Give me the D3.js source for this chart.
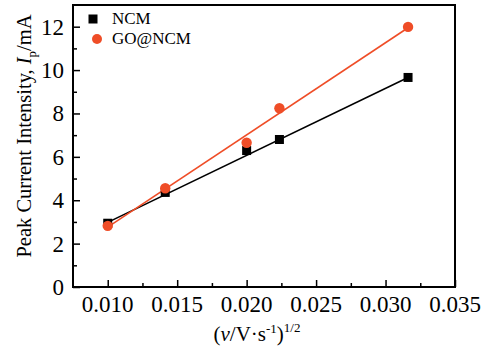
<!DOCTYPE html>
<html><head><meta charset="utf-8">
<script src="https://cdn.jsdelivr.net/npm/d3@7"></script>
<style>body{margin:0;background:#fff}svg{display:block}text{font-family:"Liberation Serif","Times New Roman",serif;fill:#000}</style>
</head><body><svg id="c" width="484" height="358"></svg>
<script>
const xVals = [0.010, 0.01414, 0.020, 0.02236, 0.03162];
const ncm = [2.94, 4.36, 6.29, 6.80, 9.66];
const go = [2.82, 4.55, 6.65, 8.24, 11.99];
const fitNCMx = [0.010, 0.03162], fitNCMy = [2.98, 9.66];
const fitGOx = [0.010, 0.03162], fitGOy = [2.76, 11.95];
const xTicks = [0.010, 0.015, 0.020, 0.025, 0.030, 0.035];
const yTicks = [0, 2, 4, 6, 8, 10, 12];
const xMinor = [0.0125, 0.0175, 0.0225, 0.0275, 0.0325];
const yMinor = [1, 3, 5, 7, 9, 11];
const seriesNames = ["NCM", "GO@NCM"];
const red = "#ef4d27";

const svg = d3.select("#c");
const L = 73, R = 455, T = 5, B = 287;
const x = d3.scaleLinear().domain([0.0075, 0.035]).range([L, R]);
const y = d3.scaleLinear().domain([0, 13]).range([B, T]);

// lines
const line = d3.line().x(d => x(d[0])).y(d => y(d[1]));
svg.append("path").datum(d3.zip(fitNCMx, fitNCMy)).attr("d", line).attr("fill","none").attr("stroke","#000").attr("stroke-width",1.6);
svg.append("path").datum(d3.zip(fitGOx, fitGOy)).attr("d", line).attr("fill","none").attr("stroke",red).attr("stroke-width",1.6);

// points
const sq = 9;
svg.selectAll(".sq").data(d3.zip(xVals, ncm)).enter().append("rect")
  .attr("x", d => x(d[0]) - sq/2).attr("y", d => y(d[1]) - sq/2).attr("width", sq).attr("height", sq).attr("fill", "#000");
svg.selectAll(".ci").data(d3.zip(xVals, go)).enter().append("circle")
  .attr("cx", d => x(d[0])).attr("cy", d => y(d[1])).attr("r", 5.2).attr("fill", red);

// axes (ticks inward)
const gx = svg.append("g").attr("transform", `translate(0,${B})`)
  .call(d3.axisTop(x).tickValues(xTicks).tickSize(7).tickFormat(""));
const gxm = svg.append("g").attr("transform", `translate(0,${B})`)
  .call(d3.axisTop(x).tickValues(xMinor).tickSize(4).tickFormat(""));
const gy = svg.append("g").attr("transform", `translate(${L},0)`)
  .call(d3.axisRight(y).tickValues(yTicks).tickSize(7).tickFormat(""));
const gym = svg.append("g").attr("transform", `translate(${L},0)`)
  .call(d3.axisRight(y).tickValues(yMinor).tickSize(4).tickFormat(""));
[gx, gxm, gy, gym].forEach(g => { g.select(".domain").remove(); g.selectAll("line").attr("stroke","#000").attr("stroke-width",1.5); });

// frame
svg.append("rect").attr("x", L).attr("y", T).attr("width", R-L).attr("height", B-T)
  .attr("fill","none").attr("stroke","#000").attr("stroke-width",2);

// tick labels
svg.selectAll(".xl").data(xTicks).enter().append("text")
  .attr("x", d => x(d)).attr("y", 312).attr("text-anchor","middle").attr("font-size", 23)
  .text(d => d3.format(".3f")(d));
svg.selectAll(".yl").data(yTicks).enter().append("text")
  .attr("x", 64).attr("y", d => y(d) + 8).attr("text-anchor","end").attr("font-size", 23)
  .text(d => d);

// x label
const xl = svg.append("text").attr("x", 257).attr("y", 341).attr("text-anchor","middle").attr("font-size", 21);
xl.append("tspan").text("(");
xl.append("tspan").attr("font-style","italic").text("v");
xl.append("tspan").text("/V·s");
xl.append("tspan").attr("font-size", 13).attr("dy", -8).text("-1");
xl.append("tspan").attr("dy", 8).text(")");
xl.append("tspan").attr("font-size", 13).attr("dy", -9).text("1/2");

// y label
const yl = svg.append("text").attr("transform", "translate(31,136) rotate(-90)").attr("text-anchor","middle").attr("font-size", 20.5);
yl.append("tspan").text("Peak Current Intensity, ");
yl.append("tspan").attr("font-style","italic").text("I");
yl.append("tspan").attr("font-size", 13).attr("dy", 5).text("p");
yl.append("tspan").attr("dy", -5).text("/mA");

// legend
svg.append("rect").attr("x", 93 - 4.5).attr("y", 19 - 4.5).attr("width", 9).attr("height", 9).attr("fill","#000");
svg.append("circle").attr("cx", 97).attr("cy", 39).attr("r", 5).attr("fill", red);
svg.append("text").attr("x", 112).attr("y", 24).attr("font-size", 17).text(seriesNames[0]);
svg.append("text").attr("x", 112).attr("y", 44).attr("font-size", 17).text(seriesNames[1]);
</script></body></html>
